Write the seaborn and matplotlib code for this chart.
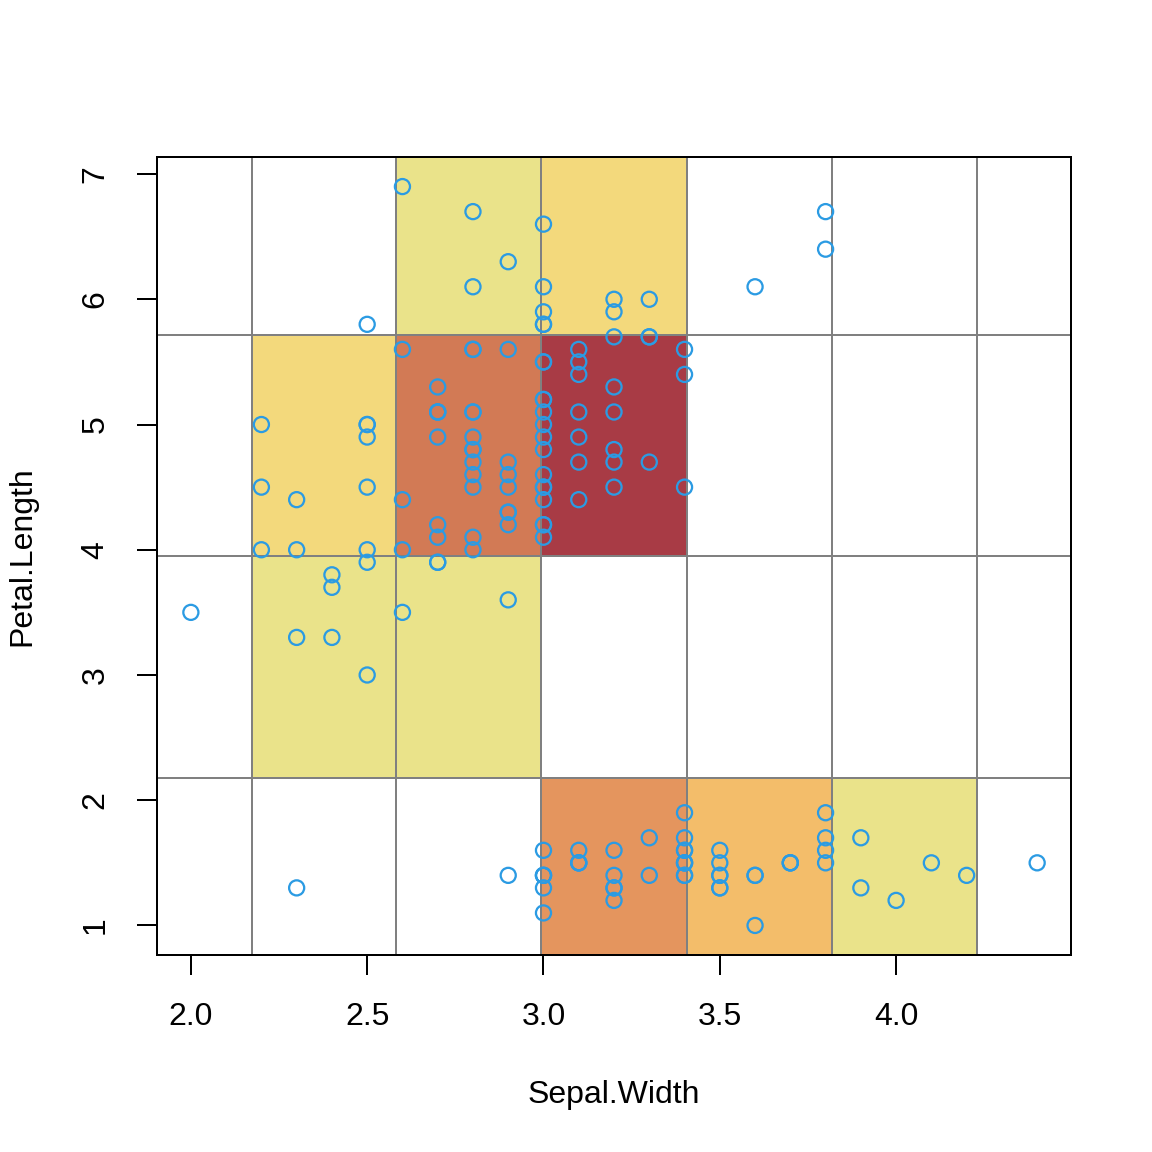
import numpy as np
import matplotlib
matplotlib.use("Agg")
import matplotlib.pyplot as plt
from matplotlib.colors import LinearSegmentedColormap
import seaborn as sns

# iris: Sepal.Width and Petal.Length (setosa, versicolor, virginica)
sepal_width = [
    3.5, 3.0, 3.2, 3.1, 3.6, 3.9, 3.4, 3.4, 2.9, 3.1, 3.7, 3.4, 3.0, 3.0, 4.0, 4.4, 3.9,
    3.5, 3.8, 3.8, 3.4, 3.7, 3.6, 3.3, 3.4, 3.0, 3.4, 3.5, 3.4, 3.2, 3.1, 3.4, 4.1, 4.2,
    3.1, 3.2, 3.5, 3.6, 3.0, 3.4, 3.5, 2.3, 3.2, 3.5, 3.8, 3.0, 3.8, 3.2, 3.7, 3.3,
    3.2, 3.2, 3.1, 2.3, 2.8, 2.8, 3.3, 2.4, 2.9, 2.7, 2.0, 3.0, 2.2, 2.9, 2.9, 3.1, 3.0,
    2.7, 2.2, 2.5, 3.2, 2.8, 2.5, 2.8, 2.9, 3.0, 2.8, 3.0, 2.9, 2.6, 2.4, 2.4, 2.7, 2.7,
    3.0, 3.4, 3.1, 2.3, 3.0, 2.5, 2.6, 3.0, 2.6, 2.3, 2.7, 3.0, 2.9, 2.9, 2.5, 2.8,
    3.3, 2.7, 3.0, 2.9, 3.0, 3.0, 2.5, 2.9, 2.5, 3.6, 3.2, 2.7, 3.0, 2.5, 2.8, 3.2, 3.0,
    3.8, 2.6, 2.2, 3.2, 2.8, 2.8, 2.7, 3.3, 3.2, 2.8, 3.0, 2.8, 3.0, 2.8, 3.8, 2.8, 2.8,
    2.6, 3.0, 3.4, 3.1, 3.0, 3.1, 3.1, 3.1, 2.7, 3.2, 3.3, 3.0, 2.5, 3.0, 3.4, 3.0,
]
petal_length = [
    1.4, 1.4, 1.3, 1.5, 1.4, 1.7, 1.4, 1.5, 1.4, 1.5, 1.5, 1.6, 1.4, 1.1, 1.2, 1.5, 1.3,
    1.4, 1.7, 1.5, 1.7, 1.5, 1.0, 1.7, 1.9, 1.6, 1.6, 1.5, 1.4, 1.6, 1.6, 1.5, 1.5, 1.4,
    1.5, 1.2, 1.3, 1.4, 1.3, 1.5, 1.3, 1.3, 1.3, 1.6, 1.9, 1.4, 1.6, 1.4, 1.5, 1.4,
    4.7, 4.5, 4.9, 4.0, 4.6, 4.5, 4.7, 3.3, 4.6, 3.9, 3.5, 4.2, 4.0, 4.7, 3.6, 4.4, 4.5,
    4.1, 4.5, 3.9, 4.8, 4.0, 4.9, 4.7, 4.3, 4.4, 4.8, 5.0, 4.5, 3.5, 3.8, 3.7, 3.9, 5.1,
    4.5, 4.5, 4.7, 4.4, 4.1, 4.0, 4.4, 4.6, 4.0, 3.3, 4.2, 4.2, 4.2, 4.3, 3.0, 4.1,
    6.0, 5.1, 5.9, 5.6, 5.8, 6.6, 4.5, 6.3, 5.8, 6.1, 5.1, 5.3, 5.5, 5.0, 5.1, 5.3, 5.5,
    6.7, 6.9, 5.0, 5.7, 4.9, 6.7, 4.9, 5.7, 6.0, 4.8, 4.9, 5.6, 5.8, 6.1, 6.4, 5.6, 5.1,
    5.6, 6.1, 5.6, 5.5, 4.8, 5.4, 5.6, 5.1, 5.1, 5.9, 5.7, 5.2, 5.0, 5.2, 5.4, 5.1,
]

# bin edges of the 2d grid
x_breaks = [1.761, 2.172, 2.583, 2.994, 3.406, 3.817, 4.228, 4.639]
y_breaks = [0.414, 2.181, 3.948, 5.715, 7.482]
min_count = 4  # cells with fewer points stay blank

x_ticks = [2.0, 2.5, 3.0, 3.5, 4.0]
y_ticks = [1, 2, 3, 4, 5, 6, 7]

# count -> colour stops
heat_stops = [0, 6, 8, 10, 16, 26, 29, 34]
heat_cols = ["#EAE38A", "#EAE38A", "#F3D97C", "#F3D97C", "#F3BD6A",
             "#E4955E", "#D37B55", "#A83B45"]
point_col = "#2B9BE3"

sns.set_style("white")
plt.rcParams["font.family"] = ["Liberation Sans", "DejaVu Sans"]
plt.rcParams["font.size"] = 12
plt.rcParams["text.color"] = "black"
plt.rcParams["axes.labelcolor"] = "black"
plt.rcParams["xtick.color"] = "black"
plt.rcParams["ytick.color"] = "black"

counts, _, _ = np.histogram2d(sepal_width, petal_length, bins=[x_breaks, y_breaks])
cells = np.ma.masked_less(counts.T, min_count)

cmax = heat_stops[-1]
heat = LinearSegmentedColormap.from_list(
    "heat", [(s / cmax, c) for s, c in zip(heat_stops, heat_cols)])

fig = plt.figure(figsize=(6, 6), dpi=192)
ax = fig.add_axes([0.1363, 0.171, 0.7934, 0.6927])

ax.pcolormesh(x_breaks, y_breaks, cells, cmap=heat, vmin=0, vmax=cmax,
              edgecolor="#8A8A8A", linewidth=0.6, linestyle="--", zorder=1)
for xb in x_breaks:
    ax.axvline(xb, color="#808080", lw=0.7, zorder=2)
for yb in y_breaks:
    ax.axhline(yb, color="#808080", lw=0.7, zorder=2)

sns.scatterplot(x=sepal_width, y=petal_length, ax=ax, marker="o",
                facecolors="none", edgecolor=point_col, linewidth=0.85,
                s=32, zorder=3)

ax.set_xlim(1.904, 4.496)
ax.set_ylim(0.764, 7.136)
ax.set_xticks(x_ticks)
ax.set_xticklabels([f"{t:.1f}" for t in x_ticks])
ax.set_yticks(y_ticks)
ax.set_yticklabels([str(t) for t in y_ticks], rotation=90, va="center")

for sp in ax.spines.values():
    sp.set_color("black")
    sp.set_linewidth(0.75)
ax.tick_params(axis="both", direction="out", length=7.5, width=0.75,
               color="black", labelcolor="black", labelsize=12,
               bottom=True, left=True)
ax.tick_params(axis="x", pad=10)
ax.tick_params(axis="y", pad=10)

ax.set_xlabel("Sepal.Width", fontsize=12, labelpad=18, color="black")
ax.set_ylabel("Petal.Length", fontsize=12, labelpad=16, color="black")

fig.savefig("out.png", dpi=192)
